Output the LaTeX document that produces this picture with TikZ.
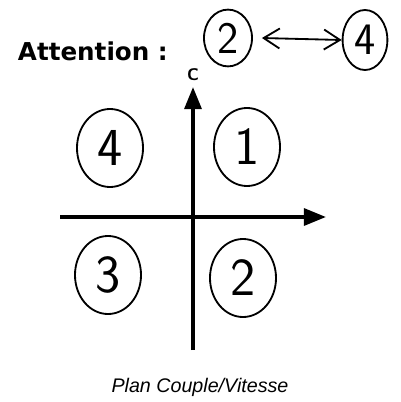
\documentclass[tikz,border=0pt]{standalone}
\usepackage{fontspec}
\usetikzlibrary{arrows.meta,shapes.geometric}
\newfontfamily\heavyfont{DejaVu Sans}
\newfontfamily\capfont{Liberation Sans}

\begin{document}
\begin{tikzpicture}[x=0.025cm,y=-0.025cm,
    quad/.style={draw,ellipse,line width=1.3pt,inner sep=0pt,
      minimum width=1.65cm,minimum height=1.95cm,
      font=\sffamily\fontsize{38}{38}\selectfont},
    warn/.style={draw,ellipse,line width=1.3pt,inner sep=0pt,
      minimum width=1.2cm,minimum height=1.42cm,
      font=\sffamily\fontsize{32}{32}\selectfont},
    axis/.style={line width=2.6pt,-{Triangle[length=5.5mm,width=4.2mm]}}]
  \useasboundingbox (0,0) rectangle (401,402);
  % warning line
  \node[anchor=west,font=\heavyfont\bfseries\fontsize{17.5}{17.5}\selectfont]
    (attn) at (13,51) {Attention :};
  \node[warn] (warn2) at (228,38) {2};
  \node[warn,minimum width=1.12cm,minimum height=1.5cm] (warn4) at (365,40) {4};
  \draw[line width=1.3pt,{Straight Barb[length=4mm,width=5mm]}-{Straight Barb[length=4mm,width=5mm]}]
    (warn2.east) ++(9,0) coordinate (l) -- (warn4.west) coordinate (r);
  % axes
  \coordinate (west) at (60,217);
  \coordinate (east) at (326,217);
  \coordinate (south) at (193,350);
  \coordinate (north) at (193,87);
  \draw[axis] (west) -- (east);
  \draw[axis] (south) -- (north);
  \node[font=\sffamily\bfseries\fontsize{12}{12}\selectfont] (clab) at (193,75) {C};
  \node[font=\bfseries\fontsize{13}{13}\selectfont] (wlab) at (341,218) {$\mathbf{\Omega}$};
  % quadrants
  \node[quad] (q1) at (247,147) {1};
  \node[quad] (q2) at (243,278) {2};
  \node[quad] (q3) at (108,275) {3};
  \node[quad] (q4) at (110,148) {4};
  \node[font=\capfont\itshape\fontsize{14}{14}\selectfont] (cap) at (200,387)
    {Plan Couple/Vitesse};
\end{tikzpicture}
\end{document}
